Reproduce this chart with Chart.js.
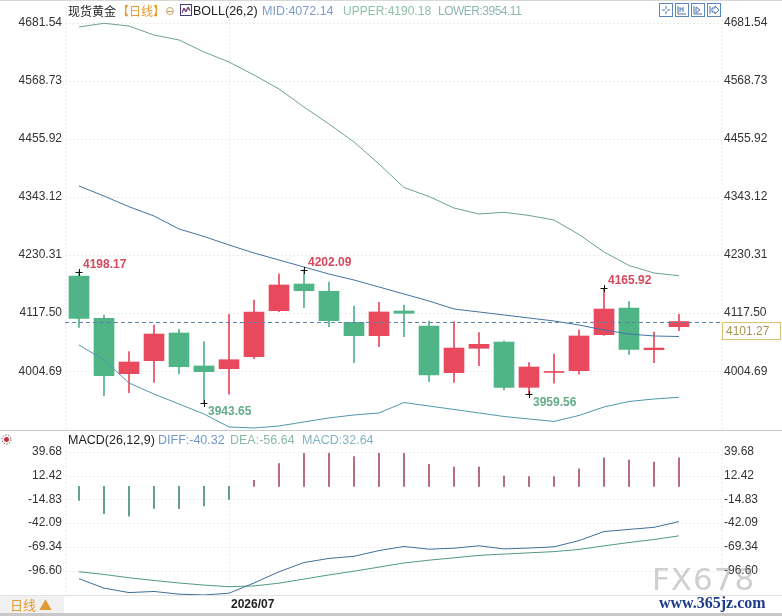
<!DOCTYPE html>
<html><head><meta charset="utf-8">
<script src="https://cdn.jsdelivr.net/npm/chart.js@4.4.1/dist/chart.umd.min.js"></script>
<style>
html,body{margin:0;padding:0;background:#fff;}
#wrap{position:relative;width:782px;height:616px;overflow:hidden;font-family:"Liberation Sans",Arial,sans-serif;background:#fff;}
canvas{position:absolute;left:0;}
#c1{top:0;}
#c2{top:430px;}
.t{position:absolute;white-space:nowrap;font-size:12px;line-height:14px;z-index:3;}
.cjk{font-family:"Noto Sans CJK SC","Liberation Sans",sans-serif;}
.hl{position:absolute;left:0;width:782px;height:1px;z-index:2;}
</style></head><body>
<div id="wrap">
<canvas id="c1" width="782" height="430"></canvas>
<canvas id="c2" width="782" height="186"></canvas>

<div class="hl" style="top:0;background:#d8d8d8"></div>
<div class="hl" style="top:430px;background:#c8c8c8"></div>
<div class="hl" style="top:595px;background:#e2e2e2"></div>
<div class="hl" style="top:613px;background:#c8c8c8;height:3px;"></div>

<div class="t cjk" style="left:68px;top:4px;color:#222;">现货黄金</div>
<div class="t cjk" style="left:117px;top:4px;color:#e39a35;">【日线】</div>
<div class="t" style="left:166px;top:7px;width:6px;height:6px;border:1px solid #c9a060;border-radius:50%;"></div>
<div class="t" style="left:167px;top:10.5px;width:6px;height:1px;background:#c9a060;"></div>
<svg class="t" style="left:180px;top:4px;" width="12" height="12"><rect x="0.5" y="0.5" width="11" height="11" fill="#fff" stroke="#4a3a80"/><polyline points="2,9 4,4 6,8 8,3 10,7" fill="none" stroke="#4a3a80" stroke-width="1"/><polyline points="2,6 4,7 6,5 8,6 10,4" fill="none" stroke="#c05070" stroke-width="0.8"/></svg>
<div class="t" style="left:193px;top:4px;color:#222;font-size:12.5px;">BOLL(26,2)</div>
<div class="t" style="left:262px;top:4px;color:#7d9dc8;font-size:12.5px;">MID:4072.14</div>
<div class="t" style="left:343px;top:4px;color:#8fc0a8;">UPPER:4190.18</div>
<div class="t" style="left:438px;top:4px;color:#8fb7b2;letter-spacing:-0.5px;">LOWER:3954.11</div>

<svg class="t" style="left:659px;top:3px;" width="62" height="14">
<g fill="#fff" stroke="#5c86c0" stroke-width="1">
<rect x="0.5" y="0.5" width="13" height="13"/><rect x="16.5" y="0.5" width="13" height="13"/><rect x="32.5" y="0.5" width="13" height="13"/><rect x="48.5" y="0.5" width="13" height="13"/></g>
<g stroke="#4a70b0" stroke-width="1" fill="none">
<path d="M7 3v3M7 8v3M3 7h3M8 7h3"/>
<path d="M19 3v8h8M21 4v5M24 4v5M21 6h3"/>
<path d="M35 3v8h8M37 4l4 3-4 3z"/>
<path d="M51 3v8M53 5h3v-2l4 4-4 4v-2h-3z"/>
</g></svg>

<svg class="t" style="left:0px;top:433px;" width="13" height="13"><circle cx="6.5" cy="6.5" r="2.5" fill="#c03040"/><circle cx="6.5" cy="6.5" r="4.5" fill="none" stroke="#555" stroke-width="1" stroke-dasharray="1.5,1.3"/></svg>
<div class="t" style="left:68px;top:433px;color:#222;font-size:12.5px;">MACD(26,12,9)</div>
<div class="t" style="left:158px;top:433px;color:#7198c8;font-size:12.5px;">DIFF:-40.32</div>
<div class="t" style="left:230px;top:433px;color:#8bb9a2;font-size:12.5px;">DEA:-56.64</div>
<div class="t" style="left:302px;top:433px;color:#7fb3c2;font-size:12.5px;">MACD:32.64</div>

<div class="t" style="left:0;top:596px;width:64px;height:17px;background:#f1f1f1;"></div>
<div class="t cjk" style="left:10px;top:597px;color:#e39a35;font-size:13px;line-height:16px;">日线 ▲</div>

<div class="t" style="left:652px;top:561px;font-family:'DejaVu Sans',sans-serif;font-size:31px;line-height:36px;color:rgba(160,160,160,0.5);letter-spacing:1px;">FX678</div>
<div class="t" style="left:659px;top:595px;font-family:'Liberation Serif',serif;font-weight:bold;font-size:16px;line-height:16px;color:#1e3c8c;">www.365jz.com</div>
</div>

<script>
// ---- data ----
const dates = ['2026/06/23','2026/06/24','2026/06/25','2026/06/26','2026/06/29','2026/06/30',
  '2026/07/01','2026/07/02','2026/07/03','2026/07/06','2026/07/07','2026/07/08','2026/07/09',
  '2026/07/10','2026/07/13','2026/07/14','2026/07/15','2026/07/16','2026/07/17','2026/07/20',
  '2026/07/21','2026/07/22','2026/07/23','2026/07/24','2026/07/27'];
const openP  = [4189.7,4107.5,4000.0,4025.2,4079.0,4015.0,4009.7,4033.0,4122.3,4174.1,4160.0,4099.8,4073.8,4121.7,4092.6,4001.9,4049.3,4061.5,3973.5,4002.4,4005.8,4075.7,4127.5,4046.5,4091.2];
const highP  = [4198.17,4114.0,4042.7,4094.5,4086.2,4062.1,4115.3,4143.1,4193.5,4202.09,4178.0,4131.4,4138.6,4133.4,4102.3,4101.0,4079.6,4063.5,4021.3,4038.2,4084.8,4165.92,4139.8,4080.9,4115.3];
const lowP   = [4090.0,3957.3,3963.1,3983.2,3999.5,3943.65,3960.0,4029.1,4120.3,4128.1,4091.2,4021.3,4052.4,4071.8,3984.4,3983.2,4015.5,3968.3,3959.56,3981.3,3998.8,4074.5,4037.6,4021.3,4083.5];
const closeP = [4107.5,3996.1,4022.7,4077.0,4013.5,4003.8,4027.1,4119.8,4172.2,4161.1,4102.9,4073.8,4119.8,4117.2,3997.5,4049.8,4057.0,3973.5,4013.0,4003.4,4073.2,4125.6,4047.3,4049.8,4101.27];
const bollUpper = [4673.2,4680.4,4675.1,4657.6,4648.0,4624.6,4605.2,4580.0,4552.8,4517.8,4484.8,4449.9,4407.2,4361.5,4344.0,4321.7,4310.0,4313.4,4307.2,4298.4,4270.3,4236.3,4210.1,4195.5,4190.18];
const bollMid   = [4364.4,4345.0,4324.2,4306.2,4281.0,4266.4,4249.9,4234.3,4220.7,4207.1,4193.5,4181.9,4168.3,4154.7,4141.1,4125.6,4119.8,4114.0,4108.1,4102.3,4094.5,4084.8,4077.0,4073.2,4072.14];
const bollLower = [4055.7,4026.6,3981.9,3960.5,3941.1,3921.7,3896.5,3894.5,3898.4,3906.2,3914.0,3919.8,3923.7,3944.0,3937.2,3930.5,3923.7,3916.8,3912.0,3907.2,3918.8,3935.3,3946.0,3950.8,3954.11];
const macdHist = [-16.0,-31.3,-34.0,-25.2,-25.5,-22.5,-14.9,6.9,26.0,37.8,37.8,34.0,37.8,37.8,25.2,22.1,22.1,11.8,11.1,11.1,20.2,32.8,30.1,27.9,32.64];
const diffLine = [-105.7,-116.5,-121.6,-120.3,-123.4,-124.3,-122.3,-110.6,-97.8,-87.2,-82.5,-80.1,-73.5,-68.8,-71.9,-70.8,-68.0,-71.6,-70.6,-69.2,-62.1,-51.7,-49.3,-46.9,-40.32];
const deaLine  = [-97.7,-100.8,-104.6,-107.7,-110.6,-113.0,-114.8,-114.0,-110.8,-106.1,-101.4,-97.1,-92.4,-87.7,-84.5,-81.8,-79.0,-77.5,-76.1,-74.7,-72.2,-68.1,-64.3,-60.8,-56.64];
const priceTicks = [4004.69,4117.50,4230.31,4343.12,4455.92,4568.73,4681.54];
const macdTicks = [39.68,12.42,-14.83,-42.09,-69.34,-96.60];
const markHigh = [0,9,21];
const markLow = [5,18];
const monthLabel = '2026/07';

// ---- styles ----
const UP = '#e8495d', DOWN = '#50b586';
const FONT = {family:'"Liberation Sans", Arial, sans-serif', size:12};
const idx = dates.map((d,i)=>i);
const XMIN = -0.56, XMAX = 25.68;
const candleColor = idx.map(i => closeP[i] >= openP[i] ? UP : DOWN);

function yAxes(min, max, ticks){
  const common = (pos)=>({
    type:'linear', position:pos, min:min, max:max,
    grid:{display:false, drawTicks:false}, border:{display:false},
    afterBuildTicks:(s)=>{ s.ticks = ticks.map(v=>({value:v})); },
    afterFit:(s)=>{ s.width = pos==='left' ? 65 : 61; s.paddingTop = 0; s.paddingBottom = 0; },
    ticks:{autoSkip:false, padding:3, color:'#333', font:FONT, callback:(v)=>Number(v).toFixed(2)}
  });
  return {y: common('left'), yR: common('right')};
}

function gridPlugin(ticks){
  return {
    id:'grid'+ticks.length,
    beforeDatasetsDraw(chart){
      const {ctx, chartArea:a, scales} = chart;
      ctx.save();
      ctx.strokeStyle = '#ebebeb'; ctx.lineWidth = 1; ctx.setLineDash([2,2]);
      ticks.forEach(v=>{
        const y = Math.round(scales.y.getPixelForValue(v))+0.5;
        ctx.beginPath(); ctx.moveTo(a.left, y); ctx.lineTo(a.right, y); ctx.stroke();
      });
      const mi = dates.findIndex(d=>d.startsWith(monthLabel));
      [a.left+1, Math.round(scales.x.getPixelForValue(mi))+0.5, a.right+1].forEach(x=>{
        ctx.beginPath(); ctx.moveTo(x, a.top); ctx.lineTo(x, a.bottom); ctx.stroke();
      });
      ctx.restore();
    }
  };
}

// ---- price chart ----
const annotPlugin = {
  id:'annot',
  afterDatasetsDraw(chart){
    const {ctx, chartArea:a, scales} = chart;
    const xs = scales.x, ys = scales.y;
    ctx.save();
    const last = closeP[closeP.length-1];
    const yl = Math.round(ys.getPixelForValue(last))+0.5;
    ctx.strokeStyle = '#5f83a6'; ctx.lineWidth = 1; ctx.setLineDash([4,3]);
    ctx.beginPath(); ctx.moveTo(a.left, yl); ctx.lineTo(a.right, yl); ctx.stroke();
    ctx.setLineDash([]);
    ctx.fillStyle = '#fff'; ctx.strokeStyle = '#dcc271';
    ctx.fillRect(722.5, yl, 58, 17); ctx.strokeRect(722.5, yl, 58, 17);
    ctx.fillStyle = '#a9924f'; ctx.font = '12px "Liberation Sans", Arial, sans-serif';
    ctx.textAlign = 'left'; ctx.textBaseline = 'middle';
    ctx.fillText(last.toFixed(2), 726, yl+9);
    const cross = (x,y)=>{
      ctx.strokeStyle = '#111'; ctx.lineWidth = 1;
      ctx.beginPath(); ctx.moveTo(x-3.5, y+0.5); ctx.lineTo(x+3.5, y+0.5);
      ctx.moveTo(x+0.5, y-3); ctx.lineTo(x+0.5, y+4); ctx.stroke();
    };
    ctx.font = 'bold 12px "Liberation Sans", Arial, sans-serif';
    markHigh.forEach(i=>{
      const x = Math.round(xs.getPixelForValue(i)), y = Math.round(ys.getPixelForValue(highP[i]));
      cross(x,y);
      ctx.fillStyle = '#d4495c'; ctx.fillText(highP[i].toFixed(2), x+4, y-7);
    });
    markLow.forEach(i=>{
      const x = Math.round(xs.getPixelForValue(i)), y = Math.round(ys.getPixelForValue(lowP[i]));
      cross(x,y);
      ctx.fillStyle = '#63ad88'; ctx.fillText(lowP[i].toFixed(2), x+4, y+9);
    });
    ctx.restore();
  }
};

new Chart(document.getElementById('c1'), {
  data:{
    datasets:[
      {type:'line', data:idx.map(i=>({x:i,y:bollUpper[i]})), borderColor:'#6f9f98', borderWidth:1, pointRadius:0, tension:0, order:1},
      {type:'line', data:idx.map(i=>({x:i,y:bollMid[i]})), borderColor:'#4373a3', borderWidth:1, pointRadius:0, tension:0, order:1},
      {type:'line', data:idx.map(i=>({x:i,y:bollLower[i]})), borderColor:'#5197aa', borderWidth:1, pointRadius:0, tension:0, order:1},
      {type:'bar', data:idx.map(i=>({x:i,y:[openP[i],closeP[i]]})), backgroundColor:candleColor, barThickness:20, minBarLength:1, grouped:false, order:2},
      {type:'bar', data:idx.map(i=>({x:i,y:[lowP[i],highP[i]]})), backgroundColor:candleColor, barThickness:1, grouped:false, order:3}
    ]
  },
  options:{
    responsive:false, animation:false, devicePixelRatio:1,
    layout:{padding:{top:3,bottom:0,left:0,right:0}},
    plugins:{legend:{display:false}, tooltip:{enabled:false}},
    scales:{
      x:{type:'linear', min:XMIN, max:XMAX, display:false, offset:false},
      ...yAxes(3890.6, 4719.8, priceTicks)
    }
  },
  plugins:[gridPlugin(priceTicks), annotPlugin]
});

// ---- MACD chart ----
const monthPlugin = {
  id:'month',
  afterDraw(chart){
    const {ctx, scales} = chart;
    const mi = dates.findIndex(d=>d.startsWith(monthLabel));
    const x = scales.x.getPixelForValue(mi);
    ctx.save();
    ctx.font = 'bold 12px "Liberation Sans", Arial, sans-serif';
    ctx.fillStyle = '#222'; ctx.textAlign = 'left'; ctx.textBaseline = 'middle';
    ctx.fillText(monthLabel, x+2, 175);
    ctx.restore();
  }
};

new Chart(document.getElementById('c2'), {
  data:{
    datasets:[
      {type:'line', data:idx.map(i=>({x:i,y:diffLine[i]})), borderColor:'#3f6f9a', borderWidth:1, pointRadius:0, tension:0, order:1},
      {type:'line', data:idx.map(i=>({x:i,y:deaLine[i]})), borderColor:'#4f9a84', borderWidth:1, pointRadius:0, tension:0, order:1},
      {type:'bar', data:idx.map(i=>({x:i,y:[0,macdHist[i]]})), backgroundColor:macdHist.map(v=>v>=0?'#a9505f':'#468f6d'), barThickness:1, grouped:false, order:2}
    ]
  },
  options:{
    responsive:false, animation:false, devicePixelRatio:1,
    layout:{padding:{top:16,bottom:20,left:0,right:0}},
    plugins:{legend:{display:false}, tooltip:{enabled:false}},
    scales:{
      x:{type:'linear', min:XMIN, max:XMAX, display:false, offset:false},
      ...yAxes(-125.5, 46.21, macdTicks)
    }
  },
  plugins:[gridPlugin(macdTicks), monthPlugin]
});
</script>
</body></html>
